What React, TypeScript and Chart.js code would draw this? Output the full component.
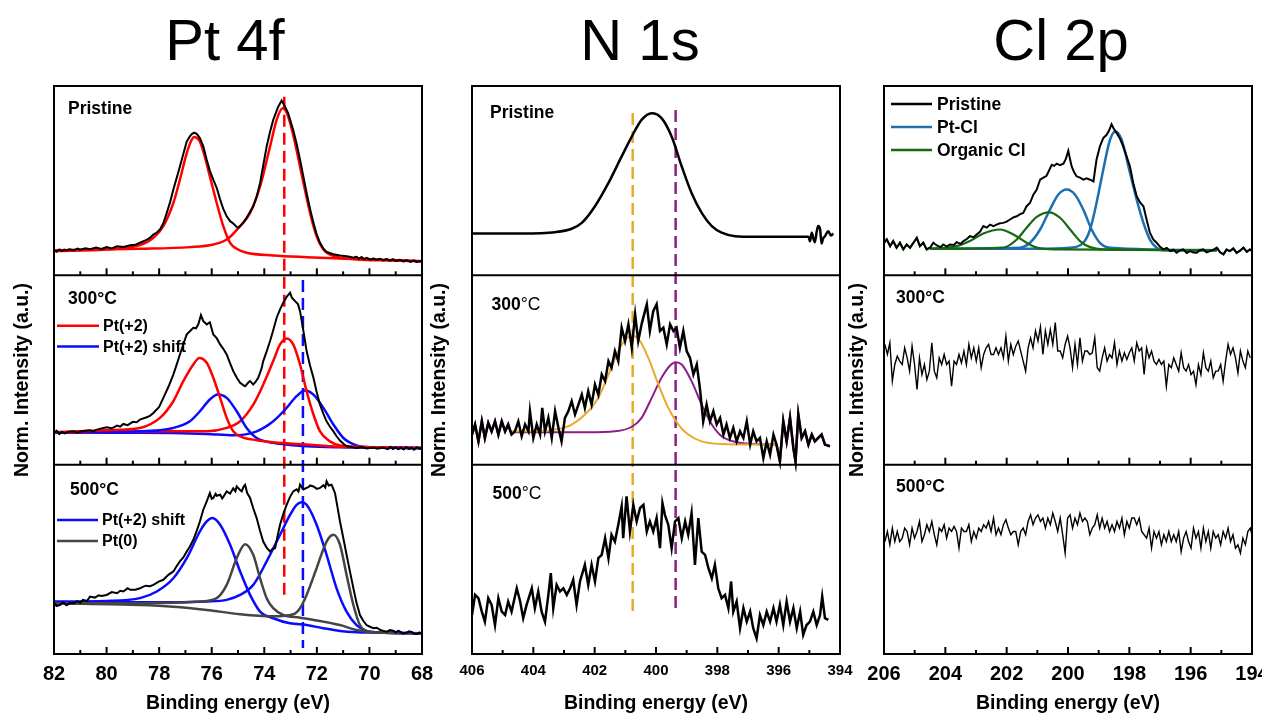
import { useEffect, useRef } from "react";
import { Chart, registerables } from "chart.js";

Chart.register(...registerables);

const FONT = "'Liberation Sans', Arial, Helvetica, sans-serif";
const NARROW = "'Liberation Sans Narrow', 'Arial Narrow', 'Liberation Sans', sans-serif";

// Spectra as [binding energy (eV), normalized intensity (% of sub-panel)]

// ---------- Pt 4f ----------
const ptPristine = [
  [82.0, 13.3], [81.9, 12.6], [81.8, 13.6], [81.7, 12.9], [81.6, 13.5], [81.52, 13.0], [81.4, 13.8], [81.26, 13.2],
  [81.1, 14.1], [81.01, 13.5], [80.8, 14.3], [80.63, 13.8], [80.4, 14.7], [80.2, 13.9], [80.0, 14.9], [79.8, 14.2],
  [79.6, 15.3], [79.36, 15.0], [79.1, 15.9], [78.9, 16.2], [78.73, 17.2], [78.5, 18.6], [78.35, 19.8], [78.22, 21.6],
  [78.09, 22.6], [77.97, 24.2], [77.84, 27.5], [77.71, 33.0], [77.58, 38.8], [77.46, 45.3], [77.33, 51.6], [77.21, 57.5],
  [77.08, 64.1], [76.95, 70.7], [76.83, 73.4], [76.76, 74.6], [76.67, 75.4], [76.57, 74.7], [76.45, 72.5], [76.32, 68.1],
  [76.19, 61.1], [76.07, 55.2], [75.94, 50.5], [75.8, 45.8], [75.68, 40.0], [75.56, 35.1], [75.43, 31.2], [75.3, 28.6],
  [75.18, 27.4], [75.05, 25.6], [74.99, 25.1], [74.9, 26.3], [74.8, 27.7], [74.67, 30.4], [74.42, 36.5], [74.29, 41.5],
  [74.16, 48.8], [74.04, 58.0], [73.91, 68.1], [73.78, 75.8], [73.66, 82.1], [73.47, 89.1], [73.34, 92.3], [73.21, 89.1],
  [73.09, 85.6], [72.9, 76.8], [72.77, 69.5], [72.64, 61.1], [72.51, 52.0], [72.39, 43.5], [72.26, 35.2], [72.13, 27.7],
  [72.01, 21.8], [71.88, 17.2], [71.75, 14.1], [71.63, 12.3], [71.37, 11.1], [71.12, 10.5], [70.8, 9.9], [70.6, 9.3],
  [70.49, 9.8], [70.4, 8.8], [70.3, 9.6], [70.2, 8.6], [70.1, 9.2], [69.98, 8.3], [69.85, 8.9], [69.72, 8.1],
  [69.6, 8.7], [69.48, 7.9], [69.35, 8.6], [69.22, 7.8], [69.1, 8.4], [69.0, 7.6], [68.84, 8.2], [68.7, 7.4],
  [68.58, 7.9], [68.45, 7.2], [68.3, 7.8], [68.2, 7.1], [68.1, 7.6], [68.01, 7.3],
];
const ptPristineFitA = [
  [82.0, 12.8], [80.0, 13.7], [78.73, 16.0], [78.22, 19.8], [77.84, 26.0], [77.46, 38.2], [77.21, 50.5], [76.95, 64.6],
  [76.76, 71.6], [76.67, 73.0], [76.57, 72.6], [76.45, 70.7], [76.32, 65.4], [76.07, 52.3], [75.81, 38.2], [75.56, 26.0],
  [75.3, 17.2], [75.05, 14.0], [74.67, 11.9], [73.66, 10.5], [72.39, 9.6], [71.12, 8.9], [69.85, 8.4], [68.01, 7.5],
];
const ptPristineFitB = [
  [82.0, 13.3], [78.73, 14.0], [76.83, 14.9], [75.94, 16.3], [75.43, 18.9], [74.92, 26.0], [74.54, 33.0], [74.16, 47.0],
  [73.78, 68.1], [73.53, 82.1], [73.3, 88.2], [73.09, 83.9], [72.83, 69.8], [72.51, 48.8], [72.26, 33.0], [72.01, 20.7],
  [71.75, 13.7], [71.37, 10.2], [70.49, 8.4], [69.22, 7.9], [68.01, 7.4],
];

const pt300 = [
  [82.0, 16.8], [81.9, 17.8], [81.8, 16.2], [81.7, 17.3], [81.6, 16.5], [81.45, 17.4], [81.26, 17.6], [81.1, 16.9],
  [81.0, 17.5], [80.8, 17.9], [80.63, 18.2], [80.5, 17.6], [80.4, 18.4], [80.2, 19.1], [80.0, 19.8], [79.8, 19.2],
  [79.6, 20.6], [79.48, 20.1], [79.36, 21.5], [79.2, 20.9], [79.0, 22.6], [78.85, 22.4], [78.73, 23.8], [78.5, 24.9],
  [78.35, 25.8], [78.22, 27.3], [78.0, 30.5], [77.84, 35.3], [77.65, 41.0], [77.46, 47.6], [77.33, 53.0], [77.21, 58.2],
  [77.08, 63.6], [76.95, 68.8], [76.83, 70.5], [76.7, 72.3], [76.6, 72.0], [76.51, 74.1], [76.41, 79.0], [76.32, 75.8],
  [76.19, 74.1], [76.07, 75.2], [75.94, 68.8], [75.81, 66.8], [75.68, 63.5], [75.56, 61.2], [75.43, 58.2], [75.3, 53.5],
  [75.18, 49.4], [75.05, 46.0], [74.92, 43.2], [74.8, 42.0], [74.73, 41.4], [74.6, 43.5], [74.54, 44.1], [74.42, 42.3],
  [74.32, 44.0], [74.23, 45.9], [74.1, 51.0], [74.04, 54.7], [73.91, 59.8], [73.78, 65.3], [73.66, 71.0], [73.53, 77.6],
  [73.4, 82.0], [73.28, 85.5], [73.15, 88.6], [73.02, 90.8], [72.95, 88.2], [72.83, 86.4], [72.72, 84.8], [72.64, 81.1],
  [72.51, 70.5], [72.39, 60.0], [72.26, 52.4], [72.13, 45.9], [72.01, 38.5], [71.88, 31.7], [71.75, 26.8], [71.63, 22.9],
  [71.5, 20.0], [71.37, 17.6], [71.25, 15.0], [71.12, 12.7], [70.99, 11.1], [70.87, 9.7], [70.7, 9.4], [70.49, 8.8],
  [70.3, 9.3], [70.1, 8.5], [69.85, 9.1], [69.7, 8.4], [69.5, 9.0], [69.3, 8.2], [69.2, 9.3], [69.1, 8.4],
  [69.0, 9.1], [68.9, 8.2], [68.8, 9.0], [68.7, 8.1], [68.6, 9.2], [68.5, 8.3], [68.4, 8.9], [68.3, 8.0],
  [68.2, 9.1], [68.1, 8.4], [68.01, 8.7],
];
const pt300RedA = [
  [82.0, 17.1], [80.0, 18.2], [78.73, 19.4], [77.97, 24.7], [77.46, 33.5], [77.08, 44.1], [76.7, 52.9], [76.47, 56.4],
  [76.19, 53.8], [75.94, 45.9], [75.68, 35.3], [75.43, 24.7], [75.18, 17.6], [74.92, 15.0], [74.29, 12.9], [73.66, 11.8],
  [72.39, 10.6], [71.12, 9.5], [69.85, 9.2], [68.01, 8.8],
];
const pt300BlueA = [
  [82.0, 17.1], [78.73, 17.6], [77.46, 19.4], [76.83, 22.9], [76.45, 28.2], [76.07, 34.4], [75.77, 37.0], [75.43, 35.3],
  [75.05, 28.2], [74.67, 19.4], [74.29, 14.1], [73.66, 11.5], [73.02, 10.4], [72.39, 9.7], [71.12, 9.2], [68.01, 8.8],
];
const pt300RedB = [
  [82.0, 16.8], [77.46, 17.6], [76.19, 17.6], [75.43, 19.4], [74.92, 22.9], [74.42, 31.7], [74.04, 42.3], [73.66, 54.7],
  [73.4, 63.5], [73.15, 66.7], [72.9, 63.5], [72.64, 52.9], [72.39, 38.8], [72.13, 26.5], [71.88, 17.6], [71.5, 12.3],
  [71.12, 10.1], [69.85, 9.2], [68.01, 8.8],
];
const pt300BlueB = [
  [82.0, 16.8], [78.73, 16.8], [76.19, 16.2], [75.18, 15.5], [74.29, 17.6], [73.66, 22.9], [73.15, 30.0], [72.77, 36.2],
  [72.45, 39.2], [72.13, 37.0], [71.75, 30.0], [71.37, 21.2], [70.99, 14.1], [70.49, 10.2], [69.85, 9.2], [68.01, 8.8],
];

const pt500 = [
  [82.0, 26.8], [81.9, 25.4], [81.77, 25.9], [81.65, 27.3], [81.52, 25.8], [81.4, 26.9], [81.26, 26.8], [81.1, 27.9],
  [81.0, 27.1], [80.9, 28.6], [80.75, 28.0], [80.63, 30.3], [80.45, 29.8], [80.3, 31.0], [80.2, 30.6], [80.0, 31.2],
  [79.8, 32.7], [79.6, 32.1], [79.48, 33.4], [79.36, 33.0], [79.2, 34.8], [79.1, 33.9], [78.9, 33.9], [78.73, 34.7],
  [78.6, 35.6], [78.5, 36.1], [78.35, 35.8], [78.22, 36.5], [78.0, 38.4], [77.84, 39.2], [77.65, 41.8], [77.46, 43.6],
  [77.33, 46.5], [77.21, 48.9], [77.08, 51.0], [76.95, 54.1], [76.83, 56.8], [76.7, 60.3], [76.57, 65.0], [76.45, 70.0],
  [76.32, 76.2], [76.19, 80.6], [76.07, 85.0], [76.0, 82.0], [75.94, 82.4], [75.85, 84.6], [75.81, 83.6], [75.68, 84.1],
  [75.6, 82.2], [75.56, 82.9], [75.43, 85.9], [75.3, 84.7], [75.18, 87.5], [75.1, 86.0], [75.05, 88.5], [74.95, 87.0],
  [74.86, 85.9], [74.78, 88.6], [74.73, 89.4], [74.65, 85.0], [74.54, 82.4], [74.42, 77.0], [74.29, 71.8], [74.16, 65.0],
  [74.04, 59.4], [73.91, 56.2], [73.78, 54.1], [73.68, 55.6], [73.59, 55.9], [73.5, 62.0], [73.4, 68.3], [73.28, 73.8],
  [73.15, 78.8], [73.02, 83.0], [72.9, 85.9], [72.77, 87.0], [72.7, 85.8], [72.64, 89.4], [72.51, 86.9], [72.39, 87.7],
  [72.3, 88.3], [72.26, 89.0], [72.13, 88.5], [72.0, 87.2], [71.88, 87.7], [71.75, 89.2], [71.68, 88.0], [71.63, 91.2],
  [71.55, 89.0], [71.44, 89.4], [71.31, 85.0], [71.22, 78.0], [71.12, 70.0], [70.99, 61.0], [70.87, 52.4], [70.74, 43.5],
  [70.61, 34.7], [70.49, 27.0], [70.36, 20.6], [70.23, 17.4], [70.11, 15.3], [69.98, 14.4], [69.85, 13.6], [69.72, 13.9],
  [69.6, 12.8], [69.47, 12.2], [69.34, 11.8], [69.22, 12.6], [69.1, 12.3], [69.0, 11.4], [68.9, 12.2], [68.84, 11.8],
  [68.72, 10.9], [68.6, 11.2], [68.5, 11.9], [68.4, 11.7], [68.3, 10.8], [68.2, 10.6], [68.1, 11.3], [68.01, 10.9],
];
const pt500BlueA = [
  [82.0, 27.7], [80.0, 28.0], [78.73, 29.5], [78.09, 33.0], [77.46, 40.0], [76.95, 50.6], [76.45, 64.7], [76.19, 70.0],
  [75.98, 71.8], [75.68, 68.3], [75.3, 57.7], [74.92, 43.6], [74.54, 31.2], [74.16, 22.4], [73.66, 18.9], [73.02, 16.2],
  [72.39, 15.3], [71.75, 13.6], [71.12, 12.2], [70.49, 11.5], [69.85, 11.3], [68.01, 10.9],
];
const pt500BlueB = [
  [82.0, 27.3], [77.46, 27.3], [76.19, 27.7], [75.43, 28.6], [74.92, 31.2], [74.42, 36.5], [73.91, 48.9], [73.4, 63.0],
  [73.02, 73.5], [72.77, 78.8], [72.58, 80.2], [72.39, 78.8], [72.01, 68.3], [71.63, 52.4], [71.25, 34.7], [70.87, 22.4],
  [70.49, 15.3], [70.11, 12.2], [69.6, 11.3], [68.01, 10.9],
];
const pt500GrayA = [
  [82.0, 26.8], [78.73, 26.8], [76.45, 27.7], [75.81, 29.5], [75.43, 36.5], [75.05, 50.6], [74.73, 58.0], [74.42, 52.4],
  [74.16, 40.0], [73.91, 29.5], [73.66, 24.2], [73.28, 20.6], [72.64, 19.2], [71.75, 17.1], [71.12, 15.3], [70.49, 12.7],
  [69.85, 11.5], [68.01, 10.9],
];
const pt500GrayB = [
  [82.0, 26.8], [78.73, 25.9], [77.46, 25.0], [76.19, 23.3], [74.92, 21.0], [73.66, 19.9], [72.9, 21.0], [72.64, 24.2],
  [72.39, 31.2], [72.01, 45.3], [71.63, 59.4], [71.37, 63.0], [71.12, 57.7], [70.87, 41.8], [70.61, 25.9], [70.36, 15.3],
  [69.98, 11.8], [68.01, 10.9],
];

// ---------- N 1s ----------
const n1sPristine = [
  [406.0, 22.1], [404.38, 22.1], [403.29, 22.8], [402.75, 24.6], [402.42, 27.7], [401.99, 36.5], [401.55, 48.8],
  [401.12, 62.8], [400.79, 73.3], [400.47, 82.1], [400.14, 85.6], [399.82, 83.0], [399.49, 73.3], [399.16, 57.5],
  [398.84, 43.5], [398.51, 33.0], [398.18, 26.0], [397.86, 22.5], [397.42, 20.7], [396.77, 20.4], [395.03, 20.4],
  [394.98, 18.0], [394.92, 22.5], [394.86, 19.0], [394.82, 17.5], [394.76, 23.0], [394.71, 26.0], [394.65, 24.5],
  [394.6, 16.8], [394.55, 19.5], [394.49, 20.7], [394.38, 23.3], [394.3, 21.0], [394.22, 22.1],
];
const n1s300 = [
  [406.0, 15.9], [405.9, 21.2], [405.79, 12.3], [405.68, 22.9], [405.58, 14.1], [405.47, 22.0], [405.36, 17.6],
  [405.25, 22.9], [405.14, 15.9], [405.03, 22.9], [404.92, 17.6], [404.82, 21.2], [404.71, 15.9], [404.6, 17.6],
  [404.49, 22.9], [404.38, 15.0], [404.27, 21.2], [404.16, 17.6], [404.11, 28.2], [404.0, 14.1], [403.89, 21.2],
  [403.78, 15.9], [403.71, 30.0], [403.62, 17.6], [403.51, 24.7], [403.4, 14.1], [403.29, 28.2], [403.18, 19.4],
  [403.08, 12.3], [402.97, 24.7], [402.86, 28.2], [402.75, 33.5], [402.64, 26.5], [402.53, 31.7], [402.42, 37.0],
  [402.32, 30.0], [402.21, 38.8], [402.1, 31.7], [401.99, 42.3], [401.88, 37.0], [401.77, 47.6], [401.66, 44.1],
  [401.55, 54.7], [401.45, 51.2], [401.34, 60.0], [401.23, 54.7], [401.12, 72.3], [401.01, 65.3], [400.9, 74.1],
  [400.79, 61.7], [400.68, 79.4], [400.58, 65.3], [400.47, 74.1], [400.36, 81.1], [400.3, 84.7], [400.2, 70.6],
  [400.09, 81.1], [399.98, 84.7], [399.87, 70.6], [399.76, 72.3], [399.65, 63.5], [399.54, 74.1], [399.43, 70.6],
  [399.33, 72.3], [399.22, 61.7], [399.11, 70.6], [399.0, 60.0], [398.89, 56.4], [398.78, 47.6], [398.67, 52.9],
  [398.57, 40.6], [398.46, 22.9], [398.35, 31.7], [398.24, 22.9], [398.13, 28.2], [398.02, 21.2], [397.91, 24.7],
  [397.8, 15.9], [397.7, 21.2], [397.59, 14.1], [397.48, 19.4], [397.37, 12.3], [397.26, 17.6], [397.15, 14.1],
  [397.04, 22.9], [396.93, 10.6], [396.83, 17.6], [396.72, 12.3], [396.61, 14.1], [396.5, 3.5], [396.39, 12.3],
  [396.28, 5.3], [396.17, 15.9], [396.07, 10.6], [395.96, 1.8], [395.85, 22.9], [395.74, 12.3], [395.63, 24.7],
  [395.52, 8.8], [395.45, 1.8], [395.36, 26.5], [395.25, 14.1], [395.14, 17.6], [395.03, 10.6], [394.92, 15.9],
  [394.82, 12.3], [394.71, 14.1], [394.6, 15.9], [394.49, 10.6], [394.33, 9.7],
];
const n1s300Orange = [
  [404.71, 17.6], [403.84, 17.6], [403.29, 18.5], [402.75, 21.2], [402.21, 28.2], [401.88, 35.3], [401.55, 47.6],
  [401.23, 60.0], [400.96, 66.7], [400.76, 67.9], [400.52, 65.3], [400.25, 56.4], [399.92, 42.3], [399.6, 30.0],
  [399.27, 21.2], [398.95, 15.9], [398.51, 12.3], [397.86, 10.9], [396.77, 10.6], [396.07, 10.6],
];
const n1s300Purple = [
  [404.71, 17.1], [403.29, 17.1], [402.21, 17.1], [401.34, 17.6], [400.76, 20.3], [400.47, 24.7], [400.14, 35.3],
  [399.82, 45.9], [399.54, 52.4], [399.36, 54.1], [399.16, 52.9], [398.84, 44.1], [398.51, 31.7], [398.18, 21.2],
  [397.86, 15.0], [397.42, 12.0], [396.77, 10.9], [396.07, 10.6],
];
const n1s500 = [
  [406.0, 20.6], [405.9, 31.2], [405.79, 29.5], [405.68, 22.4], [405.58, 17.1], [405.47, 29.5], [405.36, 25.9],
  [405.25, 15.3], [405.14, 29.5], [405.03, 22.4], [404.92, 20.6], [404.82, 27.7], [404.71, 22.4], [404.54, 34.7],
  [404.43, 27.7], [404.33, 18.9], [404.22, 25.9], [404.05, 34.7], [403.95, 24.2], [403.84, 33.0], [403.73, 22.4],
  [403.62, 17.1], [403.51, 31.2], [403.43, 42.7], [403.35, 24.2], [403.24, 36.5], [403.13, 33.0], [403.02, 34.7],
  [402.91, 31.2], [402.8, 34.7], [402.7, 39.2], [402.59, 25.9], [402.48, 38.3], [402.32, 47.1], [402.21, 36.5],
  [402.1, 47.1], [401.99, 38.3], [401.88, 50.6], [401.77, 52.4], [401.66, 61.2], [401.55, 50.6], [401.45, 63.0],
  [401.34, 59.4], [401.23, 68.3], [401.12, 78.0], [401.07, 61.2], [400.96, 83.2], [400.85, 64.7], [400.74, 78.8],
  [400.63, 70.0], [400.52, 77.1], [400.41, 78.8], [400.3, 64.7], [400.2, 70.0], [400.09, 64.7], [399.98, 71.8],
  [399.87, 55.9], [399.79, 79.7], [399.71, 73.5], [399.6, 68.3], [399.49, 55.9], [399.38, 70.0], [399.27, 71.8],
  [399.16, 61.2], [399.05, 70.0], [398.95, 63.0], [398.84, 74.4], [398.73, 47.1], [398.62, 71.8], [398.51, 54.1],
  [398.4, 52.4], [398.29, 45.3], [398.18, 40.0], [398.08, 47.1], [397.97, 34.7], [397.86, 29.5], [397.75, 31.2],
  [397.64, 24.2], [397.55, 38.3], [397.48, 22.4], [397.37, 27.7], [397.26, 13.6], [397.15, 24.2], [397.04, 17.1],
  [396.93, 22.4], [396.83, 13.6], [396.72, 8.3], [396.61, 20.6], [396.5, 15.3], [396.39, 22.4], [396.28, 17.1],
  [396.17, 24.2], [396.07, 17.1], [395.96, 25.9], [395.85, 15.3], [395.74, 27.7], [395.63, 17.1], [395.52, 24.2],
  [395.41, 13.6], [395.3, 22.4], [395.2, 10.1], [395.09, 15.3], [394.98, 17.1], [394.87, 22.4], [394.76, 15.3],
  [394.65, 20.6], [394.58, 30.3], [394.49, 18.9], [394.38, 18.0],
];

// ---------- Cl 2p ----------
const clPristine = [
  [206.0, 17.2], [205.91, 19.0], [205.8, 15.4], [205.7, 18.1], [205.59, 14.6], [205.48, 17.2], [205.37, 13.7],
  [205.26, 16.3], [205.15, 14.6], [205.04, 17.2], [204.93, 19.8], [204.83, 15.4], [204.72, 17.2], [204.61, 13.7],
  [204.5, 14.6], [204.39, 17.2], [204.28, 15.8], [204.15, 14.9], [204.07, 16.3], [203.95, 15.2], [203.85, 16.3],
  [203.72, 16.0], [203.63, 17.5], [203.5, 16.6], [203.41, 18.1], [203.3, 19.2], [203.2, 20.7], [203.08, 20.1],
  [202.98, 21.6], [202.87, 23.0], [202.76, 26.0], [202.65, 25.2], [202.54, 26.8], [202.43, 26.0], [202.33, 26.8],
  [202.22, 27.5], [202.11, 27.7], [202.0, 28.4], [201.89, 29.5], [201.78, 30.6], [201.67, 31.2], [201.56, 32.3],
  [201.46, 33.0], [201.35, 36.5], [201.24, 38.2], [201.13, 42.6], [201.02, 45.3], [200.91, 50.5], [200.8, 51.6],
  [200.7, 52.6], [200.6, 56.0], [200.53, 58.4], [200.45, 57.8], [200.37, 59.0], [200.26, 58.2], [200.15, 59.0],
  [200.07, 61.5], [199.99, 65.8], [199.93, 61.0], [199.88, 57.5], [199.8, 54.4], [199.72, 52.3], [199.61, 51.6],
  [199.5, 50.5], [199.39, 51.2], [199.28, 50.5], [199.17, 49.6], [199.07, 61.1], [198.96, 68.1], [198.85, 72.5],
  [198.74, 74.2], [198.66, 76.5], [198.58, 79.8], [198.5, 77.2], [198.41, 75.1], [198.3, 72.0], [198.2, 68.1],
  [198.09, 63.0], [197.98, 57.5], [197.87, 48.6], [197.76, 41.8], [197.65, 38.5], [197.54, 36.5], [197.43, 29.0],
  [197.33, 22.5], [197.22, 19.0], [197.11, 17.2], [197.0, 15.1], [196.89, 13.7], [196.78, 14.5], [196.67, 12.8],
  [196.56, 13.5], [196.46, 11.9], [196.35, 13.2], [196.24, 13.7], [196.13, 11.8], [196.02, 12.8], [195.91, 12.0],
  [195.8, 11.9], [195.7, 13.3], [195.59, 13.7], [195.48, 12.1], [195.37, 12.8], [195.26, 13.5], [195.15, 14.6],
  [195.04, 12.2], [194.93, 11.1], [194.83, 13.6], [194.72, 12.8], [194.61, 14.2], [194.5, 11.9], [194.39, 13.0],
  [194.28, 14.6], [194.17, 12.4], [194.07, 13.7], [194.0, 12.9],
];
const clPtClMain = [
  [204.5, 14.0], [201.02, 14.0], [199.93, 14.6], [199.5, 17.2], [199.28, 24.2], [199.07, 38.2], [198.85, 55.8],
  [198.63, 71.6], [198.45, 76.0], [198.25, 71.6], [198.03, 57.5], [197.76, 40.0], [197.54, 27.7], [197.33, 18.9],
  [197.11, 14.6], [196.89, 13.3], [195.15, 13.3],
];
const clPtClSecond = [
  [204.5, 14.0], [201.57, 14.6], [201.24, 17.2], [200.91, 24.2], [200.59, 34.7], [200.32, 42.6], [200.04, 45.3],
  [199.77, 42.6], [199.5, 34.7], [199.23, 24.2], [198.96, 17.2], [198.63, 14.6], [195.15, 13.3],
];
const clOrganicMain = [
  [204.5, 14.0], [202.11, 14.6], [201.67, 18.9], [201.35, 25.1], [201.02, 30.9], [200.61, 33.3], [200.26, 30.4],
  [199.93, 24.2], [199.61, 18.1], [199.28, 14.9], [198.85, 13.7], [195.15, 13.3],
];
const clOrganicSecond = [
  [204.5, 14.0], [203.63, 15.4], [203.2, 18.1], [202.76, 22.1], [202.22, 24.2], [201.78, 21.6], [201.35, 17.2],
  [201.02, 14.6], [200.37, 13.7], [195.15, 13.3],
];
// Annealed Cl 2p scans, recorded on a uniform energy grid
const clGridStart = 205.97;
const clGridStep = 0.0805;
const cl300Values = [
  63.5, 58.2, 64.4, 44.1, 52.9, 57.3, 54.7, 52.9, 61.7, 56.4, 49.4, 62.6, 52.9, 39.7, 56.4, 47.6, 52.9, 44.9, 49.4, 64.4,
  49.4, 45.9, 56.4, 52.9, 58.2, 52.9, 54.7, 41.4, 54.7, 52.9, 58.2, 53.8, 60.0, 52.9, 63.5, 56.4, 61.7, 54.7, 61.7, 51.2,
  58.2, 61.7, 63.5, 58.2, 58.2, 61.7, 58.2, 61.7, 56.4, 67.9, 54.7, 63.5, 58.2, 62.6, 65.3, 60.0, 54.7, 49.4, 61.7, 67.0,
  61.7, 70.6, 65.3, 72.8, 58.2, 70.6, 63.5, 71.4, 63.5, 75.0, 60.0, 60.0, 56.4, 63.5, 67.9, 61.7, 51.2, 63.5, 52.9, 67.0,
  54.7, 60.0, 60.0, 58.2, 59.1, 67.0, 51.2, 49.4, 56.4, 61.7, 54.7, 58.2, 56.4, 64.4, 52.9, 60.0, 54.7, 59.1, 55.6, 59.1,
  61.7, 54.7, 64.4, 60.0, 61.7, 47.6, 61.7, 56.4, 60.0, 54.7, 52.9, 55.6, 52.9, 54.7, 41.4, 52.9, 51.2, 56.4, 52.9, 49.4,
  59.1, 51.2, 49.4, 52.9, 47.6, 49.4, 42.3, 52.9, 47.6, 59.1, 51.2, 49.4, 54.7, 45.9, 49.4, 49.4, 52.9, 44.1, 54.7, 63.5,
  58.2, 61.7, 56.4, 48.5, 60.0, 54.7, 51.2, 60.0, 56.4,
];
const cl500Values = [
  59.4, 64.7, 57.7, 66.5, 59.4, 64.7, 59.4, 61.2, 66.5, 64.7, 57.7, 66.5, 61.2, 64.7, 70.0, 59.4, 63.0, 68.3, 64.7, 70.0,
  63.0, 57.7, 66.5, 64.7, 68.3, 61.2, 66.5, 64.7, 67.4, 64.7, 55.9, 66.5, 64.7, 64.7, 68.3, 59.4, 64.7, 61.2, 66.5, 64.7,
  68.3, 66.5, 70.0, 64.7, 71.8, 63.0, 66.5, 63.0, 68.3, 70.9, 66.5, 63.0, 64.7, 64.7, 57.7, 64.7, 66.5, 63.0, 70.0, 73.5,
  68.3, 71.8, 73.5, 70.0, 71.8, 66.5, 71.8, 68.3, 74.4, 70.0, 64.7, 71.8, 63.0, 53.3, 71.8, 73.5, 66.5, 71.8, 68.3, 74.4,
  70.0, 71.8, 70.0, 63.0, 66.5, 68.3, 73.5, 66.5, 71.8, 66.5, 70.0, 64.7, 68.3, 64.7, 70.0, 66.5, 71.8, 63.0, 70.0, 66.5,
  71.8, 71.8, 68.3, 71.8, 64.7, 63.0, 61.2, 66.5, 55.9, 64.7, 61.2, 64.7, 57.7, 63.0, 59.4, 64.7, 59.4, 63.0, 59.4, 64.7,
  54.1, 61.2, 64.7, 59.4, 55.9, 66.5, 61.2, 64.7, 55.9, 66.5, 59.4, 64.7, 55.9, 64.7, 61.2, 63.0, 57.7, 64.7, 61.2, 66.5,
  59.4, 63.0, 55.9, 57.7, 53.3, 61.2, 57.7, 64.7, 66.5, 61.2,
];

// Reference energies marked with dashed lines
const ptRefEnergies = [73.24, 72.53];
const n1sRefEnergies = [400.76, 399.36];

const RED = "#ff0000";
const BLUE = "#0a0aff";
const GRAY = "#454545";
const ORANGE = "#eba92b";
const PURPLE = "#8b1f86";
const CL_BLUE = "#1d6fb0";
const CL_GREEN = "#17690f";

// rows: 2 = top sub-panel, 1 = middle, 0 = bottom
function series(pairs: number[][], row: number, color: string, width: number, smooth = false) {
  return {
    data: pairs.map(([e, v]) => ({ x: e, y: row + v / 100 })),
    borderColor: color,
    borderWidth: width,
    pointRadius: 0,
    fill: false,
    tension: 0,
    cubicInterpolationMode: smooth ? "monotone" : "default",
  };
}
function refLine(energy: number, from: number, to: number, color: string) {
  return {
    data: [{ x: energy, y: from }, { x: energy, y: to }],
    borderColor: color,
    borderWidth: 2.5,
    borderDash: [12, 6],
    pointRadius: 0,
    fill: false,
  };
}
const above = (pairs: number[][], e: number) => pairs.filter((p) => p[0] >= e);
const below = (pairs: number[][], e: number) => pairs.filter((p) => p[0] <= e);
const onGrid = (values: number[]) => values.map((v, i) => [clGridStart - i * clGridStep, v]);

type Part = [string, boolean];
interface RowLabel { row: number; dx: number; dy: number; size: number; parts: Part[] }
interface Legend { row: number; dx0: number; dx1: number; tdx: number; dy: number; gap: number; size: number; tOff: number; items: [string, string][] }
interface Column {
  key: string;
  title: string;
  titleX: number;
  left: number;
  width: number;
  padLeft: number;
  padRight: number;
  min: number;
  max: number;
  tickFont: { family: string; size: number };
  tickRows: number[];
  yTitleX: number;
  labels: RowLabel[];
  legends: Legend[];
  datasets: any[];
}

const ptColumn: Column = {
  key: "pt",
  title: "Pt 4f",
  titleX: 225,
  left: 0,
  width: 440,
  padLeft: 54,
  padRight: 18,
  min: 68,
  max: 82,
  tickFont: { family: NARROW, size: 20 },
  tickRows: [0, 1, 2],
  yTitleX: 23,
  labels: [
    { row: 2, dx: 14, dy: 28, size: 17.5, parts: [["Pristine", true]] },
    { row: 1, dx: 14, dy: 28.5, size: 17.5, parts: [["300°C", true]] },
    { row: 0, dx: 16, dy: 30, size: 17.5, parts: [["500°C", true]] },
  ],
  legends: [
    { row: 1, dx0: 3, dx1: 45, tdx: 49, dy: 50.5, gap: 20.7, size: 16, tOff: 5, items: [["Pt(+2)", RED], ["Pt(+2) shift", BLUE]] },
    { row: 0, dx0: 3, dx1: 44, tdx: 48, dy: 55.3, gap: 21, size: 16, tOff: 5, items: [["Pt(+2) shift", BLUE], ["Pt(0)", GRAY]] },
  ],
  datasets: [
    series(ptPristine, 2, "#000", 2),
    series(above(ptPristine, 81.4), 2, RED, 2),
    series(below(ptPristine, 70.6), 2, RED, 2),
    series(ptPristineFitA, 2, RED, 2.5, true),
    series(ptPristineFitB, 2, RED, 2.5, true),
    series(pt300, 1, "#000", 2),
    series(above(pt300, 81.5), 1, BLUE, 2),
    series(below(pt300, 69.3), 1, BLUE, 2),
    series(pt300RedA, 1, RED, 2.5, true),
    series(pt300BlueA, 1, BLUE, 2.5, true),
    series(pt300RedB, 1, RED, 2.5, true),
    series(pt300BlueB, 1, BLUE, 2.5, true),
    series(pt500, 0, "#000", 2),
    series(above(pt500, 81.5), 0, BLUE, 2),
    series(below(pt500, 69.2), 0, BLUE, 2),
    series(pt500GrayA, 0, GRAY, 2.5, true),
    series(pt500GrayB, 0, GRAY, 2.5, true),
    series(pt500BlueA, 0, BLUE, 2.5, true),
    series(pt500BlueB, 0, BLUE, 2.5, true),
    refLine(ptRefEnergies[0], 2.943, 0.296, RED),
    refLine(ptRefEnergies[1], 1.975, 0.032, BLUE),
  ],
};

const n1sColumn: Column = {
  key: "n1s",
  title: "N 1s",
  titleX: 216,
  left: 424,
  width: 436,
  padLeft: 48,
  padRight: 20,
  min: 394,
  max: 406,
  tickFont: { family: FONT, size: 15 },
  tickRows: [0],
  yTitleX: 16,
  labels: [
    { row: 2, dx: 18, dy: 31.5, size: 17.5, parts: [["Pristine", true]] },
    { row: 1, dx: 19.5, dy: 34.5, size: 17.5, parts: [["300", true], ["°C", false]] },
    { row: 0, dx: 20.5, dy: 34.5, size: 17.5, parts: [["500", true], ["°C", false]] },
  ],
  legends: [],
  datasets: [
    series(n1sPristine, 2, "#000", 2.5, true),
    series(n1s300, 1, "#000", 2.5),
    series(above(n1s300, 404.71), 1, PURPLE, 2.5),
    series(below(n1s300, 396.07), 1, PURPLE, 2.5),
    series(n1s300Orange, 1, ORANGE, 2, true),
    series(n1s300Purple, 1, PURPLE, 2, true),
    series(n1s500, 0, "#000", 2.5),
    refLine(n1sRefEnergies[0], 2.857, 0.206, ORANGE),
    refLine(n1sRefEnergies[1], 2.873, 0.222, PURPLE),
  ],
};

const clColumn: Column = {
  key: "cl",
  title: "Cl 2p",
  titleX: 219,
  left: 842,
  width: 420,
  padLeft: 42,
  padRight: 10,
  min: 194,
  max: 206,
  tickFont: { family: NARROW, size: 20 },
  tickRows: [0, 1, 2],
  yTitleX: 16,
  labels: [
    { row: 1, dx: 12, dy: 27.5, size: 17.5, parts: [["300°C", true]] },
    { row: 0, dx: 12, dy: 27.5, size: 17.5, parts: [["500°C", true]] },
  ],
  legends: [
    { row: 2, dx0: 7, dx1: 48, tdx: 53, dy: 18, gap: 23, size: 17.5, tOff: 6, items: [["Pristine", "#000"], ["Pt-Cl", CL_BLUE], ["Organic Cl", CL_GREEN]] },
  ],
  datasets: [
    series(clPristine, 2, "#000", 2),
    series(above(clPristine, 204.5), 2, CL_GREEN, 2),
    series(below(clPristine, 195.15), 2, CL_GREEN, 2),
    series(clOrganicSecond, 2, CL_GREEN, 2.2, true),
    series(clOrganicMain, 2, CL_GREEN, 2.2, true),
    series(clPtClSecond, 2, CL_BLUE, 2.5, true),
    series(clPtClMain, 2, CL_BLUE, 2.5, true),
    series(onGrid(cl300Values), 1, "#000", 1.4),
    series(onGrid(cl500Values), 0, "#000", 1.4),
  ],
};

function drawParts(ctx: CanvasRenderingContext2D, parts: Part[], x: number, y: number, size: number) {
  let cx = x;
  for (const [text, bold] of parts) {
    ctx.font = `${bold ? "bold " : ""}${size}px ${FONT}`;
    ctx.fillText(text, cx, y);
    cx += ctx.measureText(text).width;
  }
}

function decorations(col: Column) {
  return {
    id: "decor-" + col.key,
    afterDatasetsDraw(chart: any) {
      const { ctx, chartArea: a, scales } = chart;
      const xs = scales.x;
      const ys = scales.y;
      ctx.save();
      ctx.strokeStyle = "#000";
      ctx.fillStyle = "#000";
      ctx.lineWidth = 2;
      ctx.setLineDash([]);

      // sub-panel frame
      ctx.strokeRect(a.left, a.top, a.right - a.left, a.bottom - a.top);
      for (const r of [1, 2]) {
        const y = ys.getPixelForValue(r);
        ctx.beginPath();
        ctx.moveTo(a.left, y);
        ctx.lineTo(a.right, y);
        ctx.stroke();
      }

      // inward ticks along sub-panel bottoms
      for (const r of col.tickRows) {
        const yb = ys.getPixelForValue(r);
        for (let e = col.min + 1; e < col.max; e++) {
          const x = xs.getPixelForValue(e);
          const len = e % 2 === 0 ? 7 : 4;
          ctx.beginPath();
          ctx.moveTo(x, yb);
          ctx.lineTo(x, yb - len);
          ctx.stroke();
        }
      }

      ctx.textAlign = "left";
      ctx.textBaseline = "alphabetic";
      for (const l of col.labels) {
        const top = ys.getPixelForValue(l.row + 1);
        drawParts(ctx, l.parts, a.left + l.dx, top + l.dy, l.size);
      }

      for (const lg of col.legends) {
        const top = ys.getPixelForValue(lg.row + 1);
        lg.items.forEach(([text, color], i) => {
          const y = top + lg.dy + i * lg.gap;
          ctx.strokeStyle = color;
          ctx.lineWidth = 2.5;
          ctx.beginPath();
          ctx.moveTo(a.left + lg.dx0, y);
          ctx.lineTo(a.left + lg.dx1, y);
          ctx.stroke();
          ctx.fillStyle = "#000";
          ctx.font = `bold ${lg.size}px ${FONT}`;
          ctx.fillText(text, a.left + lg.tdx, y + lg.tOff);
        });
      }

      // column heading
      ctx.fillStyle = "#000";
      ctx.textAlign = "center";
      ctx.font = `58px ${FONT}`;
      ctx.fillText(col.title, col.titleX, 60);

      // vertical axis title
      ctx.translate(col.yTitleX, (a.top + a.bottom) / 2 + 10);
      ctx.rotate(-Math.PI / 2);
      ctx.textBaseline = "middle";
      ctx.font = `bold 19.5px ${FONT}`;
      ctx.fillText("Norm. Intensity (a.u.)", 0, 0);
      ctx.restore();
    },
  };
}

function makeConfig(col: Column): any {
  return {
    type: "line",
    data: { datasets: col.datasets },
    options: {
      animation: false,
      responsive: false,
      events: [],
      layout: { padding: { left: col.padLeft, right: col.padRight, top: 86, bottom: 0 } },
      plugins: { legend: { display: false }, tooltip: { enabled: false }, title: { display: false } },
      scales: {
        x: {
          type: "linear",
          min: col.min,
          max: col.max,
          reverse: true,
          grid: { display: false, drawTicks: false },
          border: { display: false },
          ticks: {
            stepSize: 2,
            autoSkip: false,
            maxRotation: 0,
            padding: 8,
            color: "#000",
            font: { family: col.tickFont.family, size: col.tickFont.size, weight: "bold" },
          },
          title: {
            display: true,
            text: "Binding energy (eV)",
            color: "#000",
            font: { family: FONT, size: 19.5, weight: "bold" },
            padding: { top: 0, bottom: 2 },
          },
          afterFit: (s: any) => {
            s.height = 63;
            s.paddingLeft = 0;
            s.paddingRight = 0;
          },
        },
        y: { display: false, min: 0, max: 3 },
      },
    },
    plugins: [decorations(col)],
  };
}

function Panel({ col }: { col: Column }) {
  const ref = useRef<HTMLCanvasElement>(null);
  useEffect(() => {
    if (!ref.current) return;
    const chart = new Chart(ref.current, makeConfig(col));
    return () => chart.destroy();
  }, [col]);
  return (
    <canvas
      ref={ref}
      width={col.width}
      height={717}
      style={{ position: "absolute", left: col.left, top: 0, width: col.width, height: 717 }}
    />
  );
}

export default function App() {
  return (
    <div style={{ position: "fixed", left: 0, top: 0, width: 1262, height: 717, background: "#fff", overflow: "hidden" }}>
      <Panel col={ptColumn} />
      <Panel col={n1sColumn} />
      <Panel col={clColumn} />
    </div>
  );
}
